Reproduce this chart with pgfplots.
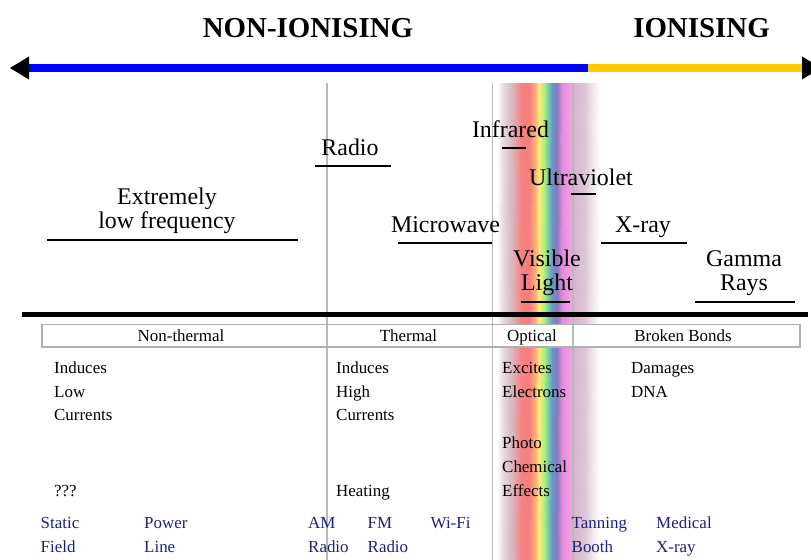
\documentclass[border=0pt]{standalone}
\usepackage{pgfplots}
\pgfplotsset{compat=1.18}
\usepackage{fontspec}
\setmainfont{Liberation Serif}
\definecolor{arrowblue}{RGB}{0,0,255}
\definecolor{arrowyellow}{RGB}{255,200,0}
\definecolor{navytext}{RGB}{30,30,125}
\definecolor{vline}{RGB}{185,185,185}
\definecolor{boxline}{RGB}{175,175,175}
\tikzset{
  big/.style={font=\fontsize{24}{24}\selectfont, anchor=base, inner sep=0pt},
  hd/.style={font=\fontsize{29}{29}\selectfont\bfseries, anchor=base, inner sep=0pt},
  cell/.style={font=\fontsize{17}{17}\selectfont, anchor=base, inner sep=0pt},
  sm/.style={font=\fontsize{17}{17}\selectfont, anchor=base west, inner sep=0pt},
  nv/.style={font=\fontsize{17}{17}\selectfont, anchor=base west, inner sep=0pt, text=navytext},
}
\begin{document}
\begin{tikzpicture}
\begin{axis}[
  width=811bp, height=560bp, scale only axis,
  xmin=0, xmax=811, ymin=0, ymax=560, y dir=reverse,
  hide axis, clip=true,
  every axis plot/.append style={mark=none},
  colormap={rainbowband}{rgb255(0pt)=(255,255,255) rgb255(6pt)=(230,218,220) rgb255(13pt)=(215,192,197) rgb255(19pt)=(232,160,165) rgb255(24pt)=(245,130,130) rgb255(32pt)=(246,125,125) rgb255(38pt)=(250,175,120) rgb255(42pt)=(250,235,120) rgb255(47pt)=(175,240,120) rgb255(51pt)=(120,205,170) rgb255(55pt)=(105,150,200) rgb255(60pt)=(140,120,190) rgb255(65pt)=(225,140,220) rgb255(74pt)=(245,160,225) rgb255(76pt)=(215,180,205) rgb255(88pt)=(222,198,213) rgb255(96pt)=(240,232,236) rgb255(103pt)=(255,255,255)},
  point meta min=497, point meta max=600,
]
% rainbow band (visible spectrum)
\addplot[patch, shader=interp, point meta=explicit] coordinates {
(497,83) [497] (503,83) [503] (497,560) [497]
(503,83) [503] (503,560) [503] (497,560) [497]
(503,83) [503] (510,83) [510] (503,560) [503]
(510,83) [510] (510,560) [510] (503,560) [503]
(510,83) [510] (516,83) [516] (510,560) [510]
(516,83) [516] (516,560) [516] (510,560) [510]
(516,83) [516] (521,83) [521] (516,560) [516]
(521,83) [521] (521,560) [521] (516,560) [516]
(521,83) [521] (529,83) [529] (521,560) [521]
(529,83) [529] (529,560) [529] (521,560) [521]
(529,83) [529] (535,83) [535] (529,560) [529]
(535,83) [535] (535,560) [535] (529,560) [529]
(535,83) [535] (539,83) [539] (535,560) [535]
(539,83) [539] (539,560) [539] (535,560) [535]
(539,83) [539] (544,83) [544] (539,560) [539]
(544,83) [544] (544,560) [544] (539,560) [539]
(544,83) [544] (548,83) [548] (544,560) [544]
(548,83) [548] (548,560) [548] (544,560) [544]
(548,83) [548] (552,83) [552] (548,560) [548]
(552,83) [552] (552,560) [552] (548,560) [548]
(552,83) [552] (557,83) [557] (552,560) [552]
(557,83) [557] (557,560) [557] (552,560) [552]
(557,83) [557] (562,83) [562] (557,560) [557]
(562,83) [562] (562,560) [562] (557,560) [557]
(562,83) [562] (571,83) [571] (562,560) [562]
(571,83) [571] (571,560) [571] (562,560) [562]
(571,83) [571] (573,83) [573] (571,560) [571]
(573,83) [573] (573,560) [573] (571,560) [571]
(573,83) [573] (585,83) [585] (573,560) [573]
(585,83) [585] (585,560) [585] (573,560) [573]
(585,83) [585] (593,83) [593] (585,560) [585]
(593,83) [593] (593,560) [593] (585,560) [585]
(593,83) [593] (600,83) [600] (593,560) [593]
(600,83) [600] (600,560) [600] (593,560) [593]
};
% white table row
\addplot[fill=white, draw=none] coordinates {(42,324.5) (800,324.5) (800,347) (42,347)} --cycle;
% vertical dividers
\addplot[draw=vline, line width=1.1bp] coordinates {(327,83) (327,560)};
\addplot[draw=vline, line width=1.1bp] coordinates {(492.5,83) (492.5,560)};
\addplot[draw=vline, line width=1.1bp] coordinates {(573,83) (573,560)};
% table row border
\addplot[draw=boxline, line width=1.3bp] coordinates {(42,324.5) (800,324.5) (800,347) (42,347)} --cycle;
% thick baseline
\addplot[draw=black, line width=5bp] coordinates {(22,315) (808,315)};
% arrow
\addplot[draw=arrowblue, line width=8bp] coordinates {(27,68) (588,68)};
\addplot[draw=arrowyellow, line width=8bp] coordinates {(588,68) (804,68)};
\addplot[fill=black, draw=none] coordinates {(10,68) (29,56.5) (29,79.5)} --cycle;
\addplot[fill=black, draw=none] coordinates {(802,56.5) (802,79.5) (821,68)} --cycle;
% underlines
\addplot[draw=black, line width=2bp] coordinates {(47,240) (298,240)};
\addplot[draw=black, line width=2bp] coordinates {(315,166.5) (391,166.5)};
\addplot[draw=black, line width=2bp] coordinates {(502,148) (526,148)};
\addplot[draw=black, line width=2bp] coordinates {(571,194) (596,194)};
\addplot[draw=black, line width=2bp] coordinates {(398,243.5) (492,243.5)};
\addplot[draw=black, line width=2bp] coordinates {(601,243.5) (687,243.5)};
\addplot[draw=black, line width=2bp] coordinates {(521,302.5) (570,302.5)};
\addplot[draw=black, line width=2bp] coordinates {(695,302.5) (795,302.5)};
% headings
\node[hd] at (axis cs:308,38) {NON-IONISING};
\node[hd] at (axis cs:701.5,38) {IONISING};
% spectrum labels
\node[big] at (axis cs:167,205) {Extremely};
\node[big] at (axis cs:167,229) {low frequency};
\node[big] at (axis cs:350,156) {Radio};
\node[big] at (axis cs:510.5,138) {Infrared};
\node[big] at (axis cs:581,186) {Ultraviolet};
\node[big] at (axis cs:445.5,233) {Microwave};
\node[big] at (axis cs:643,233) {X-ray};
\node[big] at (axis cs:547,267) {Visible};
\node[big] at (axis cs:547,291) {Light};
\node[big] at (axis cs:744,267) {Gamma};
\node[big] at (axis cs:744,291) {Rays};
% table row
\node[cell] at (axis cs:181,341.5) {Non-thermal};
\node[cell] at (axis cs:408.5,341.5) {Thermal};
\node[cell] at (axis cs:532,341.5) {Optical};
\node[cell] at (axis cs:683,341.5) {Broken Bonds};
% effects
\node[sm] at (axis cs:54,374) {Induces};
\node[sm] at (axis cs:54,397.5) {Low};
\node[sm] at (axis cs:54,421) {Currents};
\node[sm] at (axis cs:54,497) {???};
\node[sm] at (axis cs:336,374) {Induces};
\node[sm] at (axis cs:336,397.5) {High};
\node[sm] at (axis cs:336,421) {Currents};
\node[sm] at (axis cs:336,497) {Heating};
\node[sm] at (axis cs:502,374) {Excites};
\node[sm] at (axis cs:502,397.5) {Electrons};
\node[sm] at (axis cs:502,449) {Photo};
\node[sm] at (axis cs:502,473) {Chemical};
\node[sm] at (axis cs:502,497) {Effects};
\node[sm] at (axis cs:631,374) {Damages};
\node[sm] at (axis cs:631,397.5) {DNA};
% sources
\node[nv] at (axis cs:40.5,528.5) {Static};
\node[nv] at (axis cs:40.5,552.5) {Field};
\node[nv] at (axis cs:144,528.5) {Power};
\node[nv] at (axis cs:144,552.5) {Line};
\node[nv] at (axis cs:308,528.5) {AM};
\node[nv] at (axis cs:308,552.5) {Radio};
\node[nv] at (axis cs:367.5,528.5) {FM};
\node[nv] at (axis cs:367.5,552.5) {Radio};
\node[nv] at (axis cs:430.5,528.5) {Wi-Fi};
\node[nv] at (axis cs:571.5,528.5) {Tanning};
\node[nv] at (axis cs:571.5,552.5) {Booth};
\node[nv] at (axis cs:656,528.5) {Medical};
\node[nv] at (axis cs:656,552.5) {X-ray};
\end{axis}
\pgfresetboundingbox
\useasboundingbox (current axis.south west) rectangle (current axis.north east);
\end{tikzpicture}
\end{document}
